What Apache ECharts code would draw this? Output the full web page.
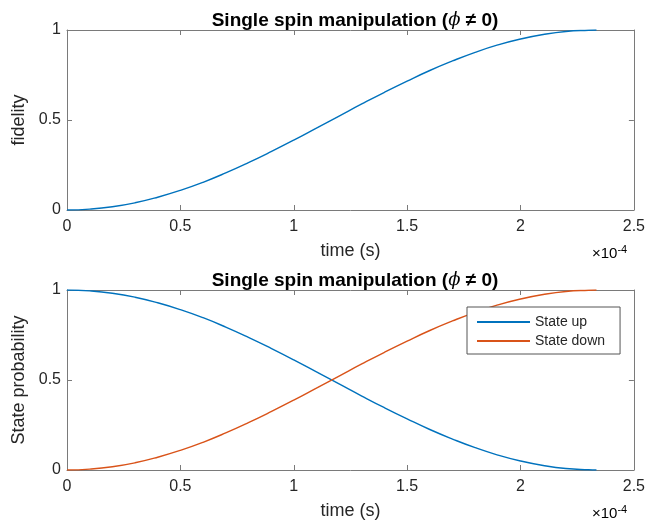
<!DOCTYPE html>
<html>
<head>
<meta charset="utf-8">
<script src="https://cdn.jsdelivr.net/npm/echarts@6/dist/echarts.min.js"></script>
<style>html,body{margin:0;padding:0;background:#fff}#c{width:648px;height:525px}</style>
</head>
<body>
<div id="c"></div>
<script>
// time in units of 1e-4 s
const timeE4 = [0,0.1,0.2,0.3,0.4,0.5,0.6,0.7,0.8,0.9,1.0,1.1,1.2,1.3,1.4,1.5,1.6,1.7,1.8,1.9,2.0,2.1,2.2,2.3,2.335];
const fidelity = [0,0.005,0.018,0.040,0.071,0.109,0.154,0.206,0.263,0.324,0.388,0.455,0.522,0.589,0.654,0.716,0.775,0.828,0.876,0.917,0.950,0.975,0.992,0.999,1.0];
const stateUp = [1,0.995,0.982,0.960,0.929,0.891,0.846,0.794,0.737,0.676,0.612,0.545,0.478,0.411,0.346,0.284,0.225,0.172,0.124,0.083,0.050,0.025,0.008,0.001,0];
const stateDown = [0,0.005,0.018,0.040,0.071,0.109,0.154,0.206,0.263,0.324,0.388,0.455,0.522,0.589,0.654,0.716,0.775,0.828,0.876,0.917,0.950,0.975,0.992,0.999,1.0];
const xTicks = ['0','0.5','1','1.5','2','2.5'];
const yTicks = ['0','0.5','1'];
const titleText = 'Single spin manipulation';

const FONT = '"Liberation Sans", Arial, Helvetica, sans-serif';
const AX = '#7a7a7a';
const TXT = '#262626';
const BLUE = '#0072BD', ORANGE = '#D95319';

function pairs(xs, ys){ return xs.map((x,i)=>[x, ys[i]]); }

function xAx(gi, pos, show){
  return {
    type:'value', gridIndex: gi, position: pos, min:0, max:2.5, interval:0.5,
    axisLine:{show:true, onZero:false, lineStyle:{color:AX, width:1}},
    axisTick:{show:true, inside:true, length:5, lineStyle:{color:AX}},
    splitLine:{show:false},
    axisLabel:{show:show, color:TXT, fontFamily:FONT, fontSize:16, margin:9,
      formatter:(v)=>{ const i=Math.round(v/0.5); return xTicks[i]!==undefined?xTicks[i]:''; }},
    name: show ? 'time (s)' : '', nameLocation:'middle', nameGap:32,
    nameTextStyle:{color:TXT, fontFamily:FONT, fontSize:18}
  };
}
function yAx(gi, pos, show, name){
  return {
    type:'value', gridIndex: gi, position: pos, min:0, max:1, interval:0.5,
    axisLine:{show:true, onZero:false, lineStyle:{color:AX, width:1}},
    axisTick:{show:true, inside:true, length:5, lineStyle:{color:AX}},
    splitLine:{show:false},
    axisLabel:{show:show, color:TXT, fontFamily:FONT, fontSize:16, margin:6,
      formatter:(v)=>{ const i=Math.round(v/0.5); return yTicks[i]!==undefined?yTicks[i]:''; }},
    name: show ? name : '', nameLocation:'middle', nameGap:38,
    nameTextStyle:{color:TXT, fontFamily:FONT, fontSize:18}
  };
}

const titleRich = {
  b:{fontFamily:FONT, fontWeight:'bold', fontSize:19, color:'#000'},
  i:{fontFamily:'"DejaVu Serif", serif', fontStyle:'italic', fontWeight:'normal', fontSize:18, color:'#000'}
};
const titleStr = '{b|' + titleText + ' (}{i|ϕ}{b| ≠ 0)}';

const expRich = {
  a:{fontFamily:FONT, fontSize:15, color:'#444', padding:[9,0,0,0]},
  s:{fontFamily:FONT, fontSize:11, color:'#444'}
};

const chart = echarts.init(document.getElementById('c'), null, {renderer:'canvas'});
chart.setOption({
  animation:false,
  backgroundColor:'#fff',
  title:[
    {text:titleStr, left:350, top:6, textAlign:'center', textStyle:{rich:titleRich}},
    {text:titleStr, left:350, top:266, textAlign:'center', textStyle:{rich:titleRich}}
  ],
  grid:[
    {left:67, top:30, width:569, height:180},
    {left:67, top:290, width:569, height:180}
  ],
  xAxis:[xAx(0,'bottom',true), xAx(0,'top',false), xAx(1,'bottom',true), xAx(1,'top',false)],
  yAxis:[yAx(0,'left',true,'fidelity'), yAx(0,'right',false,''), yAx(1,'left',true,'State probability'), yAx(1,'right',false,'')],
  legend:{
    data:[{name:'State up', icon:'rect'},{name:'State down', icon:'rect'}],
    orient:'vertical', left:467, top:307,
    itemWidth:53, itemHeight:2, itemGap:5, itemTextGap:6,
    padding:[8,15,6,10],
    borderColor:'#555', borderWidth:1, backgroundColor:'#fff',
    textStyle:{fontFamily:FONT, fontSize:14, color:TXT}
  },
  graphic:[
    {type:'text', left:592, top:244, style:{text:'{a|×10}{s|-4}', rich:expRich}},
    {type:'text', left:592, top:504, style:{text:'{a|×10}{s|-4}', rich:expRich}}
  ],
  series:[
    {name:'fidelity', type:'line', xAxisIndex:0, yAxisIndex:0, showSymbol:false, smooth:true, data:pairs(timeE4, fidelity), lineStyle:{color:BLUE, width:1.4}, itemStyle:{color:BLUE}},
    {name:'State up', type:'line', xAxisIndex:2, yAxisIndex:2, showSymbol:false, smooth:true, data:pairs(timeE4, stateUp), lineStyle:{color:BLUE, width:1.4}, itemStyle:{color:BLUE}},
    {name:'State down', type:'line', xAxisIndex:2, yAxisIndex:2, showSymbol:false, smooth:true, data:pairs(timeE4, stateDown), lineStyle:{color:ORANGE, width:1.4}, itemStyle:{color:ORANGE}}
  ]
});
</script>
</body>
</html>
